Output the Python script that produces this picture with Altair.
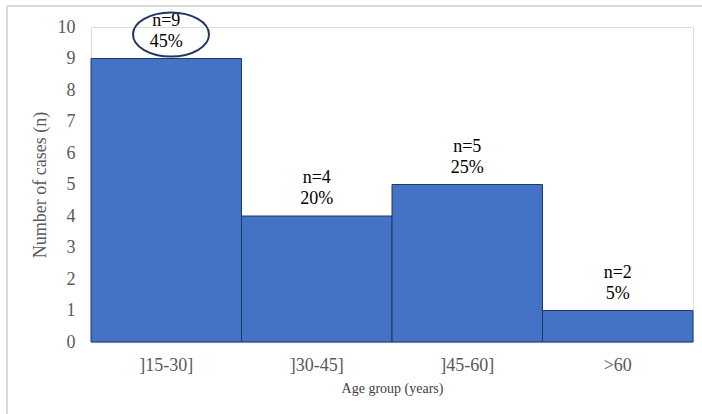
import altair as alt
import pandas as pd

categories = ["]15-30]", "]30-45]", "]45-60]", ">60"]
counts = [9, 4, 5, 1]
n_labels = ["n=9", "n=4", "n=5", "n=2"]
pct_labels = ["45%", "20%", "25%", "5%"]
y_ticks = [0, 1, 2, 3, 4, 5, 6, 7, 8, 9, 10]

df = pd.DataFrame({
    "cat": categories,
    "count": counts,
    "n_label": n_labels,
    "pct_label": pct_labels,
})

FONT = "Liberation Serif"
W, H = 602, 315

x = alt.X("cat:N", sort=categories, title="Age group (years)",
          scale=alt.Scale(paddingInner=0, paddingOuter=0),
          axis=alt.Axis(labelAngle=0, labelFont=FONT, labelFontSize=18, labelColor="#595959",
                        labelPadding=14, ticks=False, domainColor="#d9d9d9", domainWidth=1.5,
                        titleFont=FONT, titleFontSize=14, titleFontWeight="normal",
                        titleColor="#404040", titlePadding=7))
y = alt.Y("count:Q", title="Number of cases (n)",
          scale=alt.Scale(domain=[0, 10], nice=False),
          axis=alt.Axis(values=y_ticks, labelOverlap=False, grid=False, domain=False,
                        ticks=False, labelFont=FONT, labelFontSize=18, labelColor="#595959",
                        labelPadding=16, titleFont=FONT, titleFontSize=18,
                        titleFontWeight="normal", titleColor="#595959", titlePadding=8))

base = alt.Chart(df)
bars = base.mark_bar(color="#4472c4", stroke="#1f3864", strokeWidth=1).encode(x=x, y=y)
pct_text = base.mark_text(font=FONT, fontSize=18, color="#000000", baseline="bottom",
                          dy=-8).encode(x=x, y=y, text="pct_label:N")
n_text = base.mark_text(font=FONT, fontSize=18, color="#000000", baseline="bottom",
                        dy=-29).encode(x=x, y=y, text="n_label:N")

ellipse = alt.Chart(df[df["cat"] == categories[0]]).mark_point(
    shape="M -1 0 A 1 0.58 0 1 0 1 0 A 1 0.58 0 1 0 -1 0 Z",
    size=5776, filled=False, stroke="#1f3864", strokeWidth=2, opacity=1).encode(
    x=alt.value(80), y=alt.value(7.5))

frame_top = alt.Chart(df).mark_rule(color="#d9d9d9", strokeWidth=1.5).encode(
    x=alt.value(-84), x2=alt.value(611), y=alt.value(-21))
frame_left = alt.Chart(df).mark_rule(color="#d9d9d9", strokeWidth=1.5).encode(
    x=alt.value(-84), y=alt.value(-21), y2=alt.value(387))

chart = alt.layer(frame_top, frame_left, bars, pct_text, n_text, ellipse).properties(
    width=W, height=H,
    autosize=alt.AutoSizeParams(type="none"),
    padding={"left": 91, "top": 27, "right": 9, "bottom": 72},
).configure_view(strokeWidth=0, stroke="transparent").configure(background="white")

chart.save("out.html", embed_options={"renderer": "svg", "actions": False})
